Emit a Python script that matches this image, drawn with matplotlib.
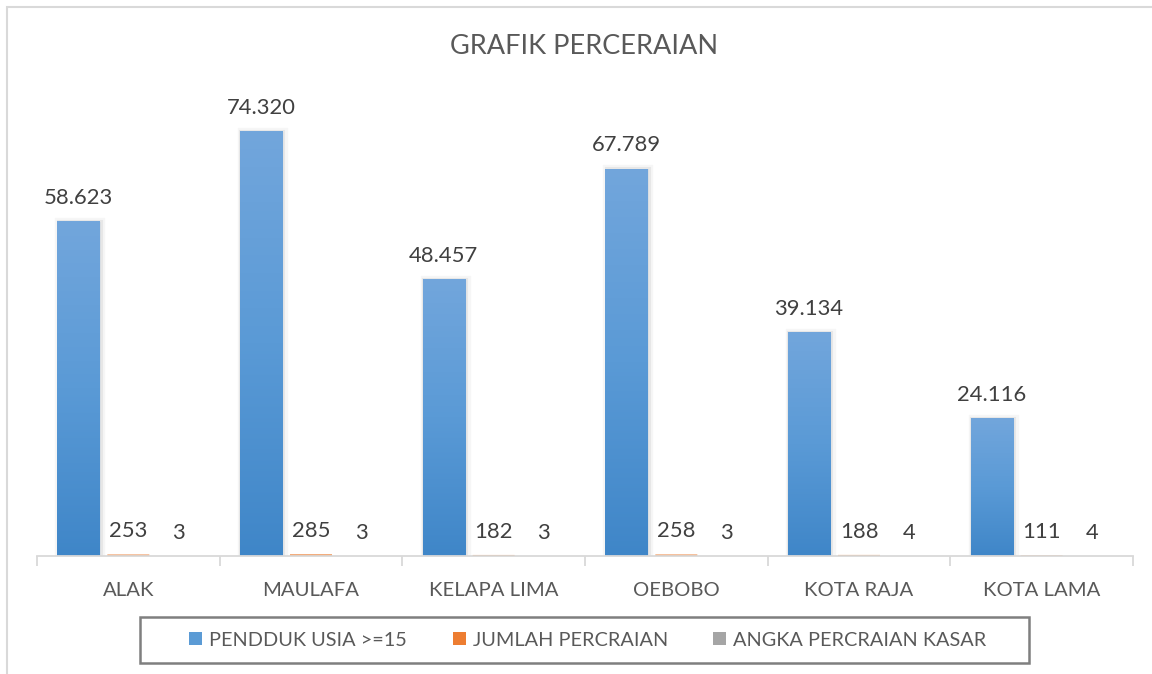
import numpy as np
import matplotlib
matplotlib.use("Agg")
import matplotlib.pyplot as plt
from matplotlib.patches import Patch, Rectangle
from matplotlib.colors import LinearSegmentedColormap
import matplotlib.patheffects as pe

# Data
kelurahan = ["ALAK", "MAULAFA", "KELAPA LIMA", "OEBOBO", "KOTA RAJA", "KOTA LAMA"]
penduduk_15 = [58623, 74320, 48457, 67789, 39134, 24116]
jumlah_cerai = [253, 285, 182, 258, 188, 111]
angka_cerai_kasar = [3, 3, 3, 3, 4, 4]
series_names = ["PENDDUK USIA >=15", "JUMLAH PERCRAIAN", "ANGKA PERCRAIAN KASAR"]

FONT = ["Lato", "DejaVu Sans"]
plt.rcParams["font.family"] = FONT

BLUE = "#5B9BD5"
ORANGE = "#ED7D31"
GRAY = "#A5A5A5"
TXT = "#595959"
LBL = "#404040"

W, H = 1152, 674
fig = plt.figure(figsize=(W / 100, H / 100), dpi=100)
fig.patch.set_facecolor("white")

# chart area outline
fig.patches.append(Rectangle((7 / W, -0.05), 1.2, 1 - 7 / H + 0.05, transform=fig.transFigure,
                             fill=False, edgecolor="#D9D9D9", linewidth=1.5))

ax = fig.add_axes([37 / W, 1 - 556 / H, (1133 - 37) / W, (556 - 99) / H])
ax.set_xlim(-0.5, len(kelurahan) - 0.5)
ax.set_ylim(0, 80000)

x = np.arange(len(kelurahan))
bw = 0.23
step = 0.274

shadow = [pe.Stroke(linewidth=6, foreground="black", alpha=0.035, offset=(1.5, -0.5)),
          pe.Stroke(linewidth=3, foreground="black", alpha=0.06, offset=(1, -0.5)),
          pe.Normal()]

b1 = ax.bar(x - step, penduduk_15, bw, color=BLUE, zorder=2)
b2 = ax.bar(x, jumlah_cerai, bw, color=ORANGE, zorder=2)
b3 = ax.bar(x + step, angka_cerai_kasar, bw, color=GRAY, zorder=2)
for r in list(b2) + list(b3):
    r.set_snap(False)

# gradient fill of the population bars
cmap = LinearSegmentedColormap.from_list("g", ["#3F86C8", "#5A9AD6", "#72A6DC"])
grad = np.linspace(0, 1, 256).reshape(-1, 1)
for r in b1:
    r.set_path_effects(shadow)
    x0, y0 = r.get_x(), r.get_y()
    im = ax.imshow(grad, cmap=cmap, origin="lower", aspect="auto",
                   extent=(x0, x0 + r.get_width(), y0, y0 + r.get_height()), zorder=2.5)
    im.set_clip_path(r)
ax.set_xlim(-0.5, len(kelurahan) - 0.5)
ax.set_ylim(0, 80000)


def fmt(v):
    return f"{v:,}".replace(",", ".")


for bars, vals in ((b1, penduduk_15), (b2, jumlah_cerai), (b3, angka_cerai_kasar)):
    for r, v in zip(bars, vals):
        ax.annotate(fmt(v), (r.get_x() + r.get_width() / 2, r.get_height()),
                    xytext=(0, 12.5), textcoords="offset points", ha="center", va="baseline",
                    fontsize=15.8, color=LBL, zorder=4)

for s in ("top", "left", "right"):
    ax.spines[s].set_visible(False)
ax.spines["bottom"].set_color("#D9D9D9")
ax.spines["bottom"].set_linewidth(1.3)
ax.set_yticks([])
ax.set_xticks(x)
ax.set_xticklabels(kelurahan, fontsize=14.6, color=TXT)
ax.tick_params(axis="x", which="major", length=0, pad=19)
ax.set_xticks(np.arange(-0.5, len(kelurahan)), minor=True)
ax.tick_params(axis="x", which="minor", length=7, width=1.3, color="#D9D9D9")

fig.text(584 / W, 1 - 47 / H, "GRAFIK PERCERAIAN", ha="center", va="center",
         fontsize=19.5, color=TXT)

# legend
fig.patches.append(Rectangle((140 / W, 1 - 663 / H), (1029 - 140) / W, 46 / H,
                             transform=fig.transFigure, fill=False,
                             edgecolor="#7F7F7F", linewidth=1.8))
handles = [Patch(facecolor=c, edgecolor="none") for c in (BLUE, ORANGE, GRAY)]
leg = fig.legend(handles, series_names, loc="center", bbox_to_anchor=(588 / W, 1 - 640 / H),
                 ncol=3, frameon=False, fontsize=14.3, handlelength=0.65, handleheight=0.65,
                 handletextpad=0.35, columnspacing=2.3)
for t in leg.get_texts():
    t.set_color(TXT)

fig.savefig("out.png", dpi=100, facecolor="white")
